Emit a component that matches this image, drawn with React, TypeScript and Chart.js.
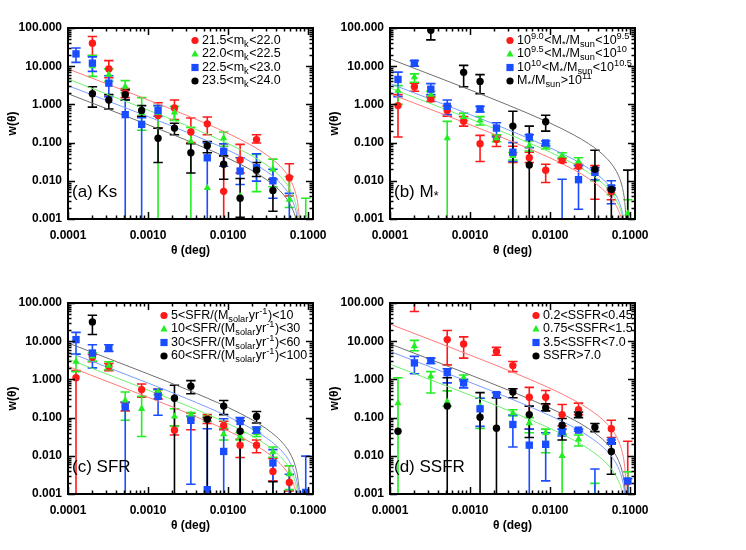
import React, { useEffect, useRef } from "react";
import { Chart, registerables } from "chart.js";
Chart.register(...registerables);

const FONT = "'Liberation Sans', Arial, sans-serif";
const XMIN = 1e-4;
const XMAX = 0.115;
const YMIN = 0.001;
const YMAX = 100;

// angular bins (deg)
const THETA = [1.259e-4, 2.018e-4, 3.236e-4, 5.188e-4, 8.318e-4, 1.334e-3, 2.138e-3, 3.428e-3, 5.495e-3, 8.81e-3, 0.01413, 0.02265, 0.03631, 0.05821, 0.09333];

// fit-line abscissae
const FIT_T_AC = [1e-4, 1e-3, 3e-3, 0.01, 0.02, 0.03, 0.04, 0.05, 0.06, 0.07, 0.075, 0.078, 0.0795];
const FIT_T_BD = [1e-4, 1e-3, 3e-3, 0.01, 0.02, 0.03, 0.04, 0.05, 0.06, 0.07, 0.08, 0.085, 0.088, 0.0895];

const X_TICKS = [1e-4, 1e-3, 1e-2, 1e-1];
const X_TICK_LABELS = ["0.0001", "0.0010", "0.0100", "0.1000"];
const Y_TICKS = [100, 10, 1, 0.1, 0.01, 0.001];
const Y_TICK_LABELS = ["100.000", "10.000", "1.000", "0.100", "0.010", "0.001"];

// ---------- panel (a) Ks ----------
const A_LABELS = ["21.5<m_{k}<22.0", "22.0<m_{k}<22.5", "22.5<m_{k}<23.0", "23.5<m_{k}<24.0"];
const A_RED_W = [null, 40, 8.5, 2.0, null, 0.51, 0.81, 0.19, 0.31, 0.0053, 0.035, 0.12, null, 0.012, null];
const A_RED_HI = [null, 60, 14, 2.6, null, 1.1, 1.3, 0.44, 0.47, 0.093, 0.09, 0.16, null, 0.028, null];
const A_RED_LO = [null, 19, 5, 1.5, null, 0.24, 0.4, 0.1, 0.16, 0, 0.016, 0.098, null, 0.004, null];
const A_GRN_W = [null, 10, 6, 2.9, 0.6, 0.6, 0.62, 0.107, 0.0065, 0.13, 0.004, 0.022, 0.02, 0.0032, null];
const A_GRN_HI = [null, 19, 8.5, 4.2, 1.5, 0.93, 0.89, 0.25, null, 0.19, null, 0.049, 0.037, 0.013, 0.0035];
const A_GRN_LO = [null, 5.4, 4, 2.0, 0.21, 0, 0.38, 0, null, 0.08, null, 0.0052, 0.007, 0.002, 0];
const A_BLU_W = [21, 12, 3.6, 0.54, 0.3, 0.69, null, null, 0.04, 0.059, 0.018, 0.022, 0.01, null, null];
const A_BLU_HI = [30, 17.5, 5.6, 1.3, 0.45, 0.93, null, null, 0.098, 0.093, 0.04, 0.051, 0.02, 0.0047, null];
const A_BLU_LO = [12.6, 7.3, 1.6, 0, 0, 0.49, null, null, 0, 0.024, 0.008, 0.0098, 0.0035, 0, null];
const A_BLK_W = [null, 1.9, 1.3, 1.8, 0.69, 0.13, 0.24, 0.054, 0.083, 0.027, 0.0035, 0.019, 0.0056, null, null];
const A_BLK_HI = [null, 2.9, 1.8, 2.4, 0.93, 0.24, 0.32, 0.093, 0.107, 0.045, 0.0115, 0.03, 0.011, null, null];
const A_BLK_LO = [null, 0.85, 0.76, 1.3, 0.49, 0.03, 0.16, 0.016, 0.054, 0.011, 0.0011, 0.013, 0.0016, null, null];
const A_RED_FIT = [8.5, 1.313, 0.521, 0.174, 0.0826, 0.0485, 0.0301, 0.0186, 0.0105, 0.0046, 0.00216, 0.00083, 0.0002];
const A_GRN_FIT = [4.6, 0.71, 0.282, 0.0941, 0.0447, 0.0262, 0.0163, 0.0101, 0.0057, 0.00248, 0.00117, 0.00045, 0.000108];
const A_BLU_FIT = [3.1, 0.479, 0.19, 0.0634, 0.0301, 0.0177, 0.011, 0.00679, 0.00384, 0.00167, 0.00079, 0.0003, 0.000073];
const A_BLK_FIT = [1.9, 0.293, 0.1165, 0.0389, 0.0185, 0.0108, 0.00673, 0.00416, 0.00236, 0.00103, 0.00048, 0.000186, 0.000045];

// ---------- panel (b) M* ----------
const B_LABELS = ["10^{9.0}<M_{*}/M_{sun}<10^{9.5}", "10^{9.5}<M_{*}/M_{sun}<10^{10}", "10^{10}<M_{*}/M_{sun}<10^{10.5}", "M_{*}/M_{sun}>10^{11}"];
const B_RED_W = [0.93, 2.9, 1.38, 0.69, 0.36, 0.093, 0.12, 0.05, 0.04, 0.019, 0.034, 0.024, 0.017, 0.0052, null];
const B_RED_HI = [1.8, 3.6, 1.6, 0.9, 0.48, 0.155, 0.15, 0.08, 0.056, 0.027, 0.038, 0.027, 0.025, 0.0058, null];
const B_RED_LO = [0.14, 2.2, 1.2, 0.49, 0.27, 0.032, 0.079, 0.03, 0.03, 0.009, 0.03, 0.021, 0.0033, 0.0032, null];
const B_GRN_W = [2.3, 5.2, 1.8, 0.13, 0.47, 0.38, 0.13, 0.045, 0.083, 0.079, 0.046, 0.032, 0.016, 0.006, 0.0014];
const B_GRN_HI = [3.1, 6.3, 2.2, 0.36, 0.59, 0.48, 0.16, 0.055, 0.11, 0.093, 0.054, 0.04, 0.019, 0.0075, 0.0032];
const B_GRN_LO = [1.0, 3.8, 1.5, 0, 0.38, 0.29, 0.105, 0.035, 0.06, 0.068, 0.04, 0.026, 0.01, 0.0043, 0];
const B_BLU_W = [4.5, 12, 2.5, 0.89, null, 0.76, 0.24, 0.056, 0.14, 0.098, null, 0.0107, 0.0166, 0.0065, null];
const B_BLU_HI = [7.0, 14, 3.5, 1.3, null, 0.89, 0.33, 0.1, 0.16, 0.11, 0.011, 0.025, 0.022, 0.01, null];
const B_BLU_LO = [1.6, 10, 1.8, 0.54, null, 0.63, 0.14, 0.032, 0.074, 0.082, 0, 0.0018, 0.0107, 0.0025, null];
const B_BLK_W = [null, null, 87, null, 6.9, 4.0, null, 0.27, 0.026, 0.35, null, null, 0.02, 0.0059, null];
const B_BLK_HI = [null, null, 200, null, 10.5, 6.0, null, 0.66, 0.27, 0.52, null, null, 0.063, 0.0065, 0.019];
const B_BLK_LO = [null, null, 49, null, 2.9, 1.9, null, 0, 0, 0.2, null, null, 0, 0, 0];
const B_RED_FIT = [1.9, 0.294, 0.117, 0.0397, 0.0193, 0.0116, 0.00754, 0.00496, 0.00315, 0.00184, 0.00082, 0.00039, 0.00015, 0.0000475];
const B_GRN_FIT = [2.7, 0.418, 0.1666, 0.0564, 0.0274, 0.0165, 0.0107, 0.00705, 0.00448, 0.00262, 0.00116, 0.00055, 0.00021, 0.0000675];
const B_BLU_FIT = [3.5, 0.542, 0.216, 0.0731, 0.0355, 0.0214, 0.0139, 0.00914, 0.00581, 0.0034, 0.0015, 0.00071, 0.00028, 0.0000875];
const B_BLK_FIT = [15.5, 2.4, 0.956, 0.324, 0.157, 0.0949, 0.0615, 0.0405, 0.0257, 0.015, 0.00667, 0.00315, 0.00123, 0.00039];

// ---------- panel (c) SFR ----------
const C_LABELS = ["5<SFR/(M_{solar}yr^{-1})<10", "10<SFR/(M_{solar}yr^{-1})<30", "30<SFR/(M_{solar}yr^{-1})<60", "60<SFR/(M_{solar}yr^{-1})<100"];
const C_RED_W = [1.1, 3.8, 2.2, 0.2, 0.54, 0.42, 0.047, 0.09, 0.093, 0.062, 0.019, 0.019, 0.0039, 0.002, null];
const C_RED_HI = [1.7, 4.5, 2.6, 0.25, 0.76, 0.56, 0.06, 0.13, 0.12, 0.08, 0.027, 0.026, 0.0085, 0.0055, null];
const C_RED_LO = [0, 2.9, 1.7, 0.15, 0.34, 0.31, 0.035, 0.048, 0.07, 0.048, 0.009, 0.012, 0.0022, 0.0012, null];
const C_GRN_W = [2.9, 4.0, 2.3, 0.28, 0.17, 0.48, 0.107, 0.12, 0.094, 0.037, 0.032, 0.04, 0.0125, 0.0033, null];
const C_GRN_HI = [4.6, 5.0, 2.9, 0.47, 0.36, 0.53, 0.17, 0.135, 0.11, 0.053, 0.04, 0.05, 0.017, 0.0055, null];
const C_GRN_LO = [1.6, 3.0, 1.8, 0.085, 0.032, 0.4, 0.06, 0.105, 0.08, 0.026, 0.026, 0.032, 0.0092, 0.0013, null];
const C_BLU_W = [11, 4.9, 6.6, 0.19, null, 0.36, null, 0.085, 0.0013, 0.013, 0.079, 0.047, 0.0065, null, 0.0011];
const C_BLU_HI = [17, 8.1, 8.1, 0.25, null, 0.55, null, 0.11, 0.051, 0.093, 0.1, 0.057, 0.0145, 0.0033, 0.0098];
const C_BLU_LO = [4.6, 2.0, 5.4, 0, null, 0.115, null, 0.0018, 0, 0, 0, 0.039, 0.001, 0, 0];
const C_BLK_W = [null, 32, null, null, null, null, 0.32, 0.66, 0.09, 0.2, 0.044, 0.107, null, null, null];
const C_BLK_HI = [null, 48, null, null, null, null, 0.7, 0.93, 0.1, 0.28, 0.083, 0.145, 0.0021, null, null];
const C_BLK_LO = [null, 15, null, null, null, null, 0, 0.42, 0, 0.12, 0, 0.072, 0, null, null];
const C_RED_FIT = [2.2, 0.34, 0.135, 0.045, 0.0214, 0.0125, 0.0078, 0.0048, 0.00273, 0.00119, 0.00056, 0.000215, 0.000052];
const C_GRN_FIT = [3.4, 0.525, 0.2086, 0.0696, 0.033, 0.0194, 0.012, 0.00745, 0.00422, 0.00184, 0.00086, 0.00033, 0.00008];
const C_BLU_FIT = [5.2, 0.803, 0.319, 0.1064, 0.0505, 0.0296, 0.0184, 0.0114, 0.00645, 0.00281, 0.00132, 0.00051, 0.00012];
const C_BLK_FIT = [9, 1.39, 0.552, 0.184, 0.0875, 0.0513, 0.0319, 0.0197, 0.0112, 0.00486, 0.00229, 0.00088, 0.00021];

// ---------- panel (d) SSFR ----------
const D_LABELS = ["0.2<SSFR<0.45", "0.75<SSFR<1.5", "3.5<SSFR<7.0", "SSFR>7.0"];
const D_RED_W = [null, 150, null, 11, 8.5, null, 5.4, 2.3, 0.34, 0.34, 0.12, 0.16, null, 0.051, 0.0021];
const D_RED_HI = [null, 300, null, 19, 13, null, 6.9, 2.95, 0.62, 0.51, 0.22, 0.24, null, 0.085, 0.024];
const D_RED_LO = [null, 60, null, 2.4, 3.6, null, 4.3, 1.6, 0.05, 0.22, 0.06, 0.12, null, 0.03, 0];
const D_GRN_W = [0.24, 7.4, 1.2, 0.26, 1.1, 0.2, null, 0.13, 0.072, 0.04, 0.01, 0.027, null, null, null];
const D_GRN_HI = [1.1, 10.5, 1.6, 0.5, 1.3, 0.32, null, 0.16, 0.1, 0.05, 0.037, 0.035, 0.0019, null, 0.0038];
const D_GRN_LO = [0, 5.6, 0.44, 0.2, 0.9, 0.052, null, 0.11, 0.04, 0.012, 0, 0.018, 0, null, 0];
const D_BLU_W = [null, 2.7, 3.1, 1.5, 0.81, 0.17, 0.4, 0.066, 0.019, 0.02, 0.044, 0.047, null, 0.024, 0.0022];
const D_BLU_HI = [null, 4.0, 3.6, 1.9, 1.0, 0.32, 0.45, 0.117, 0.05, 0.04, 0.05, 0.05, 0.0045, 0.026, 0.0025];
const D_BLU_LO = [null, 1.4, 2.6, 0.81, 0.6, 0.059, 0.33, 0.017, 0, 0.0022, 0.033, 0.044, 0, 0.02, 0];
const D_BLK_W = [0.044, null, null, 0.2, null, 0.102, 0.053, 0.47, 0.12, 0.18, 0.063, 0.12, 0.056, 0.013, null];
const D_BLK_HI = [null, null, null, 1.1, null, 0.45, 0.33, 0.57, 0.2, 0.23, 0.095, 0.14, 0.07, 0.022, null];
const D_BLK_LO = [null, null, null, 0, null, 0, 0, 0.33, 0.03, 0.15, 0.026, 0.1, 0.043, 0.0033, null];
const D_RED_FIT = [28, 4.33, 1.728, 0.585, 0.284, 0.171, 0.111, 0.0731, 0.0465, 0.0272, 0.012, 0.0057, 0.0022, 0.0007];
const D_GRN_FIT = [2.5, 0.387, 0.154, 0.0522, 0.0254, 0.0153, 0.0099, 0.00653, 0.00415, 0.00243, 0.00108, 0.00051, 0.0002, 0.0000625];
const D_BLU_FIT = [5.4, 0.836, 0.333, 0.1128, 0.0548, 0.033, 0.0214, 0.0141, 0.00896, 0.00524, 0.00232, 0.0011, 0.00043, 0.000135];
const D_BLK_FIT = [8.5, 1.316, 0.524, 0.177, 0.0862, 0.052, 0.0337, 0.0222, 0.0141, 0.00825, 0.00366, 0.00173, 0.00067, 0.00021];

const COLORS = ["#ff1a1a", "#22ee22", "#1a4dff", "#000000"];
const LINE_COLORS = ["#ff7a7a", "#70f070", "#7a9cff", "#707070"];
const MARKERS = ["circle", "triangle", "rect", "circle"];

type Series = { w: (number | null)[]; hi: (number | null)[]; lo: (number | null)[]; fit: number[] };
type Panel = { tag: string; labels: string[]; fitT: number[]; series: Series[]; left: number; top: number; legendDx: number };

const PANELS: Panel[] = [
  { tag: "(a) Ks", labels: A_LABELS, fitT: FIT_T_AC, left: 0, top: 0, legendDx: 127,
    series: [
      { w: A_RED_W, hi: A_RED_HI, lo: A_RED_LO, fit: A_RED_FIT },
      { w: A_GRN_W, hi: A_GRN_HI, lo: A_GRN_LO, fit: A_GRN_FIT },
      { w: A_BLU_W, hi: A_BLU_HI, lo: A_BLU_LO, fit: A_BLU_FIT },
      { w: A_BLK_W, hi: A_BLK_HI, lo: A_BLK_LO, fit: A_BLK_FIT },
    ] },
  { tag: "(b) M_{*}", labels: B_LABELS, fitT: FIT_T_BD, left: 322, top: 0, legendDx: 120,
    series: [
      { w: B_RED_W, hi: B_RED_HI, lo: B_RED_LO, fit: B_RED_FIT },
      { w: B_GRN_W, hi: B_GRN_HI, lo: B_GRN_LO, fit: B_GRN_FIT },
      { w: B_BLU_W, hi: B_BLU_HI, lo: B_BLU_LO, fit: B_BLU_FIT },
      { w: B_BLK_W, hi: B_BLK_HI, lo: B_BLK_LO, fit: B_BLK_FIT },
    ] },
  { tag: "(c) SFR", labels: C_LABELS, fitT: FIT_T_AC, left: 0, top: 275, legendDx: 96,
    series: [
      { w: C_RED_W, hi: C_RED_HI, lo: C_RED_LO, fit: C_RED_FIT },
      { w: C_GRN_W, hi: C_GRN_HI, lo: C_GRN_LO, fit: C_GRN_FIT },
      { w: C_BLU_W, hi: C_BLU_HI, lo: C_BLU_LO, fit: C_BLU_FIT },
      { w: C_BLK_W, hi: C_BLK_HI, lo: C_BLK_LO, fit: C_BLK_FIT },
    ] },
  { tag: "(d) SSFR", labels: D_LABELS, fitT: FIT_T_BD, left: 322, top: 275, legendDx: 146,
    series: [
      { w: D_RED_W, hi: D_RED_HI, lo: D_RED_LO, fit: D_RED_FIT },
      { w: D_GRN_W, hi: D_GRN_HI, lo: D_GRN_LO, fit: D_GRN_FIT },
      { w: D_BLU_W, hi: D_BLU_HI, lo: D_BLU_LO, fit: D_BLU_FIT },
      { w: D_BLK_W, hi: D_BLK_HI, lo: D_BLK_LO, fit: D_BLK_FIT },
    ] },
];

function drawRich(ctx: CanvasRenderingContext2D, text: string, x: number, y: number, size: number, weight: string) {
  const parts: { t: string; mode: number }[] = [];
  let buf = "";
  let i = 0;
  while (i < text.length) {
    const c = text[i];
    if ((c === "_" || c === "^") && text[i + 1] === "{") {
      if (buf) parts.push({ t: buf, mode: 0 });
      buf = "";
      const end = text.indexOf("}", i);
      parts.push({ t: text.slice(i + 2, end), mode: c === "_" ? -1 : 1 });
      i = end + 1;
      continue;
    }
    buf += c;
    i++;
  }
  if (buf) parts.push({ t: buf, mode: 0 });
  let cx = x;
  ctx.textAlign = "left";
  ctx.textBaseline = "middle";
  for (const p of parts) {
    const fs = p.mode === 0 ? size : size * 0.74;
    ctx.font = `${weight} ${fs}px ${FONT}`;
    const dy = p.mode === 0 ? 0 : p.mode === 1 ? -size * 0.36 : size * 0.28;
    ctx.fillText(p.t, cx, y + dy);
    cx += ctx.measureText(p.t).width + (p.mode === 0 ? 0 : 0.5);
  }
}

function drawMarker(ctx: CanvasRenderingContext2D, kind: string, x: number, y: number, color: string) {
  ctx.fillStyle = color;
  ctx.beginPath();
  if (kind === "circle") {
    ctx.arc(x, y, 3.6, 0, Math.PI * 2);
  } else if (kind === "triangle") {
    ctx.moveTo(x, y - 4);
    ctx.lineTo(x + 3.6, y + 2.4);
    ctx.lineTo(x - 3.6, y + 2.4);
    ctx.closePath();
  } else {
    ctx.rect(x - 3.6, y - 3.6, 7.2, 7.2);
  }
  ctx.fill();
}

function makeChart(canvas: HTMLCanvasElement, panel: Panel) {
  const datasets: any[] = [];
  panel.series.forEach((s, k) => {
    datasets.push({
      type: "scatter",
      data: panel.fitT.map((t, j) => ({ x: t, y: s.fit[j] })),
      showLine: true,
      borderColor: LINE_COLORS[k],
      borderWidth: 1,
      pointRadius: 0,
      cubicInterpolationMode: "monotone",
      clip: 0,
      order: 10 + k,
    });
  });
  panel.series.forEach((s, k) => {
    const pts: any[] = [];
    THETA.forEach((t, j) => {
      const v = s.w[j];
      if (v !== null && v !== undefined) pts.push({ x: t, y: v });
    });
    datasets.push({
      type: "scatter",
      data: pts,
      showLine: false,
      pointStyle: MARKERS[k],
      pointRadius: k === 1 ? 4.2 : k === 2 ? 5.2 : 3.7,
      pointBackgroundColor: COLORS[k],
      pointBorderColor: COLORS[k],
      pointBorderWidth: 0,
      clip: 0,
      order: 4 - k,
    });
  });

  const errPlugin = {
    id: "errbars",
    beforeDatasetsDraw(chart: any) {
      const { ctx, chartArea: a, scales } = chart;
      const xs = scales.x, ys = scales.y;
      ctx.save();
      ctx.beginPath();
      ctx.rect(a.left, a.top, a.right - a.left, a.bottom - a.top);
      ctx.clip();
      ctx.lineWidth = 1.6;
      panel.series.forEach((s, k) => {
        ctx.strokeStyle = COLORS[k];
        THETA.forEach((t, j) => {
          const hi = s.hi[j], lo = s.lo[j], v = s.w[j];
          if (hi === null && lo === null) return;
          const px = xs.getPixelForValue(t);
          const pv = v !== null ? ys.getPixelForValue(v) : null;
          const pTop = hi !== null ? ys.getPixelForValue(hi) : pv;
          const pBot = lo === null ? pv : lo <= 0 ? a.bottom + 5 : ys.getPixelForValue(lo);
          if (pTop === null || pBot === null) return;
          ctx.beginPath();
          ctx.moveTo(px, pTop);
          ctx.lineTo(px, pBot);
          if (hi !== null) { ctx.moveTo(px - 4.7, pTop); ctx.lineTo(px + 4.7, pTop); }
          if (lo !== null && lo > 0) { ctx.moveTo(px - 4.7, pBot); ctx.lineTo(px + 4.7, pBot); }
          ctx.stroke();
        });
      });
      ctx.restore();
    },
  };

  const framePlugin = {
    id: "frame",
    afterDraw(chart: any) {
      const { ctx, chartArea: a, scales } = chart;
      const xs = scales.x, ys = scales.y;
      ctx.save();
      ctx.strokeStyle = "#000";
      ctx.lineWidth = 1.5;
      ctx.beginPath();
      for (let e = -4; e <= -1; e++) {
        for (let m = 1; m <= 9; m++) {
          const v = m * Math.pow(10, e);
          if (v < XMIN * 0.999 || v > XMAX) continue;
          const px = Math.round(xs.getPixelForValue(v)) + 0.5;
          const len = m === 1 ? 7 : 3.5;
          ctx.moveTo(px, a.bottom); ctx.lineTo(px, a.bottom - len);
          ctx.moveTo(px, a.top); ctx.lineTo(px, a.top + len);
        }
      }
      for (let e = -3; e <= 2; e++) {
        for (let m = 1; m <= 9; m++) {
          const v = m * Math.pow(10, e);
          if (v < YMIN * 0.999 || v > YMAX * 1.001) continue;
          const py = Math.round(ys.getPixelForValue(v)) + 0.5;
          const len = m === 1 ? 7 : 3.5;
          ctx.moveTo(a.left, py); ctx.lineTo(a.left + len, py);
          ctx.moveTo(a.right, py); ctx.lineTo(a.right - len, py);
        }
      }
      ctx.stroke();
      ctx.lineWidth = 2;
      ctx.strokeRect(a.left, a.top, a.right - a.left, a.bottom - a.top);

      // legend
      const rows = [12.5, 26, 39.5, 53];
      panel.labels.forEach((lab, k) => {
        const mx = a.left + panel.legendDx;
        const my = a.top + rows[k];
        drawMarker(ctx, MARKERS[k], mx, my, COLORS[k]);
        ctx.fillStyle = "#000";
        drawRich(ctx, lab, mx + 7, my, 12.5, "normal");
      });
      // panel tag
      ctx.fillStyle = "#000";
      drawRich(ctx, panel.tag, a.left + 4, a.bottom - 27, 17, "normal");
      ctx.restore();
    },
  };

  const tickFont = { family: FONT, size: 12, weight: "bold" as const };

  return new Chart(canvas, {
    type: "scatter",
    data: { datasets },
    options: {
      responsive: false,
      animation: false,
      events: [],
      layout: { padding: { top: 28, right: 60, left: 0, bottom: 0 } },
      plugins: { legend: { display: false }, tooltip: { enabled: false } },
      scales: {
        x: {
          type: "logarithmic",
          min: XMIN,
          max: XMAX,
          grid: { display: false, drawTicks: false },
          border: { display: false },
          afterBuildTicks: (scale: any) => { scale.ticks = X_TICKS.map((v) => ({ value: v })); },
          ticks: {
            autoSkip: false, maxRotation: 0, minRotation: 0, padding: 9, color: "#000", font: tickFont,
            callback: (_v: any, i: number) => X_TICK_LABELS[i],
          },
          title: { display: true, text: "θ (deg)", color: "#000", font: tickFont, padding: { top: 0, bottom: 17 } },
          afterFit: (scale: any) => { scale.height = 56; },
        },
        y: {
          type: "logarithmic",
          min: YMIN,
          max: YMAX,
          grid: { display: false, drawTicks: false },
          border: { display: false },
          afterBuildTicks: (scale: any) => { scale.ticks = Y_TICKS.map((v) => ({ value: v })); },
          ticks: {
            autoSkip: false, padding: 6, color: "#000", font: tickFont,
            callback: (v: any) => Y_TICK_LABELS[Y_TICKS.findIndex((t) => Math.abs(Math.log10(t) - Math.log10(v)) < 1e-6)],
          },
          title: { display: true, text: "w(θ)", color: "#000", font: tickFont, padding: { top: 5, bottom: 0 } },
          afterFit: (scale: any) => { scale.width = 68; },
        },
      },
    },
    plugins: [errPlugin, framePlugin],
  } as any);
}

export default function App() {
  const refs = [useRef<HTMLCanvasElement>(null), useRef<HTMLCanvasElement>(null), useRef<HTMLCanvasElement>(null), useRef<HTMLCanvasElement>(null)];
  useEffect(() => {
    document.body.style.margin = "0";
    document.body.style.background = "#fff";
    const charts = PANELS.map((p, i) => makeChart(refs[i].current as HTMLCanvasElement, p));
    return () => charts.forEach((c) => c.destroy());
  }, []);
  return (
    <div style={{ position: "relative", width: 746, height: 550, background: "#fff", overflow: "hidden" }}>
      {PANELS.map((p, i) => (
        <canvas
          key={i}
          ref={refs[i]}
          width={373}
          height={275}
          style={{ position: "absolute", left: p.left, top: p.top, width: 373, height: 275 }}
        />
      ))}
    </div>
  );
}
